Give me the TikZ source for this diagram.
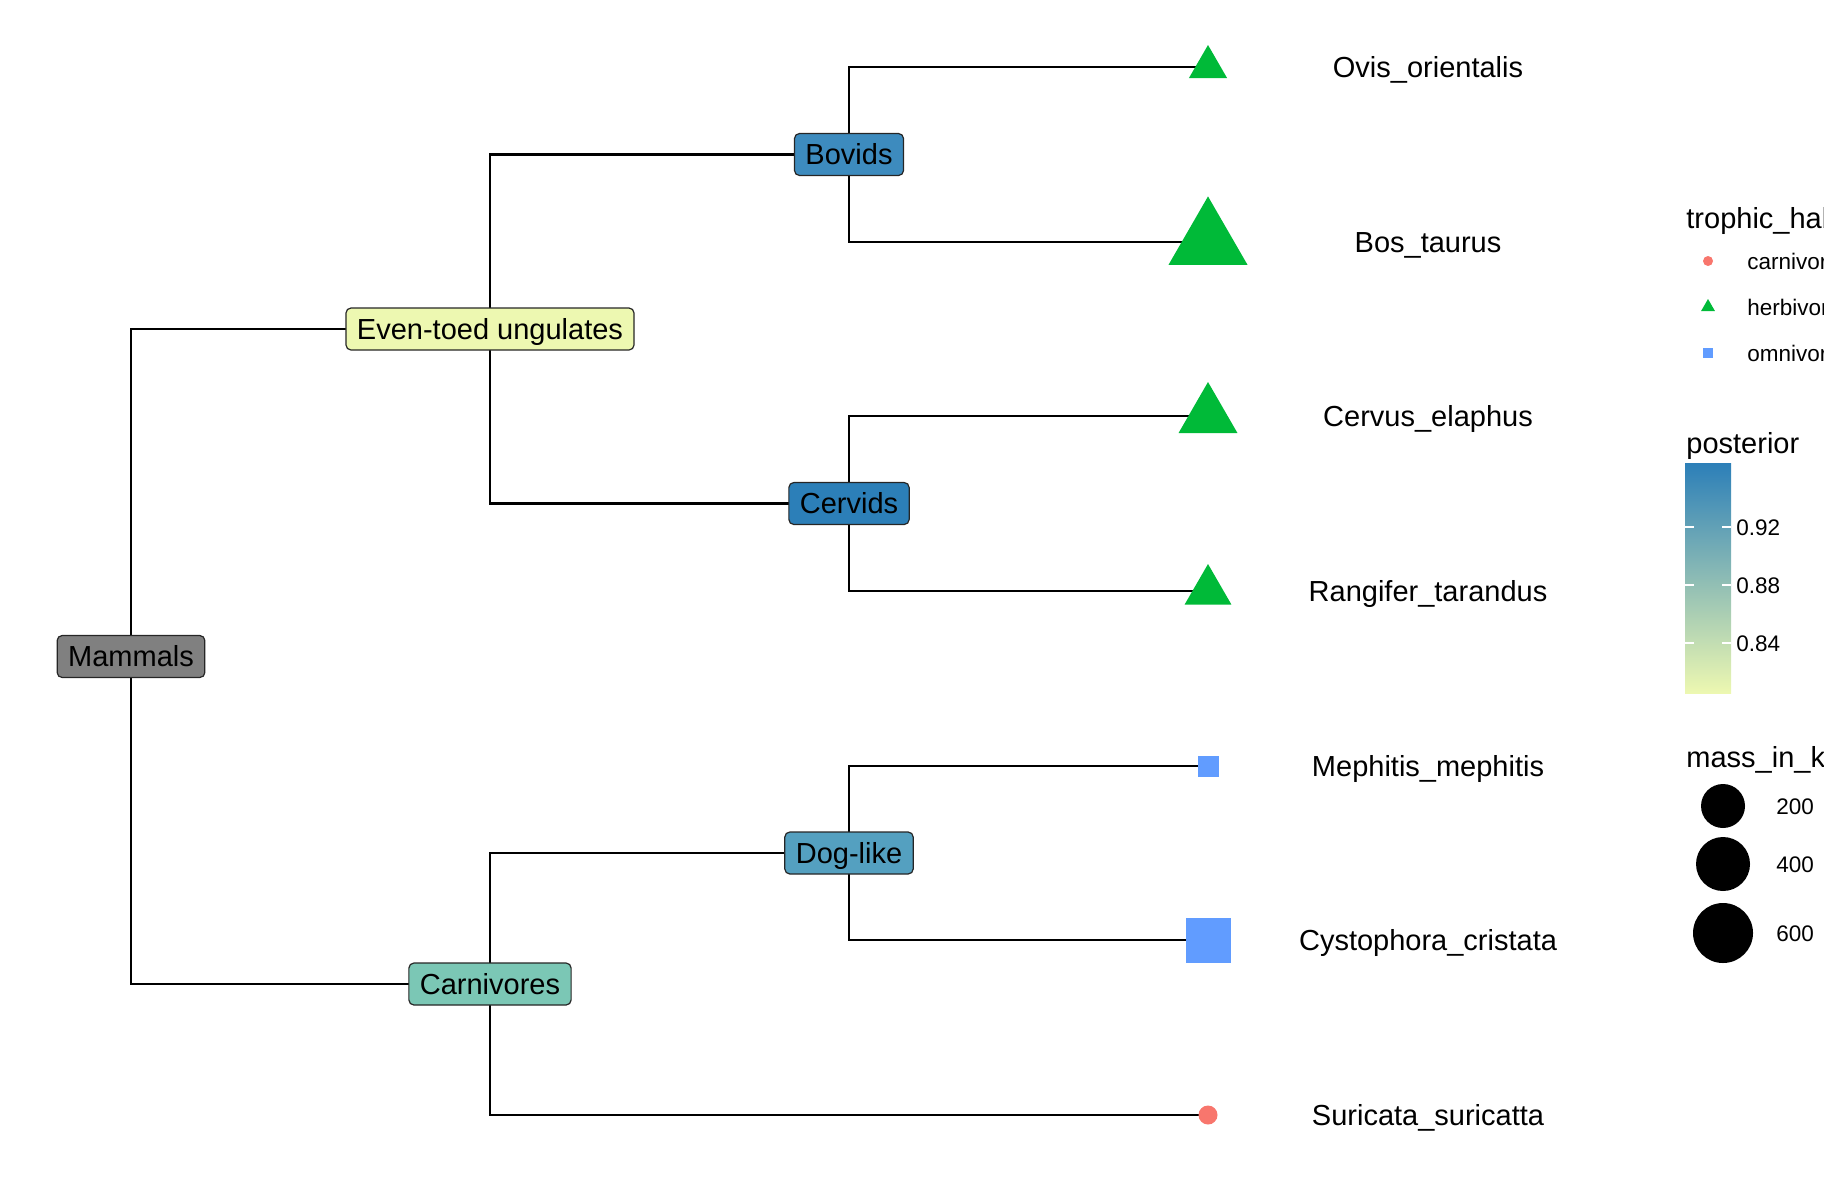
\documentclass[tikz,border=0pt]{standalone}
\usepackage{fontspec}
\setmainfont{Liberation Sans}
\usetikzlibrary{shapes.geometric,backgrounds}
\definecolor{carnc}{HTML}{F8766D}
\definecolor{herbc}{HTML}{00BA38}
\definecolor{omnic}{HTML}{619CFF}
\definecolor{postL}{HTML}{EDF8B1}
\definecolor{postM}{HTML}{7FCDBB}
\definecolor{postH}{HTML}{2C7FB8}

\begin{document}
\begin{tikzpicture}[x=0.5pt,y=-0.5pt,
clade/.style={draw=black!85,line width=0.6pt,rounded corners=2.5pt,font=\fontsize{14.5}{17}\selectfont,text height=10.4pt,text depth=0pt,inner xsep=5.5pt,inner ysep=5.3pt},
herb/.style={regular polygon,regular polygon sides=3,fill=herbc,inner sep=0pt,outer sep=0pt,minimum size=#1},
omni/.style={rectangle,fill=omnic,inner sep=0pt,outer sep=0pt,minimum size=#1},
carni/.style={circle,fill=carnc,inner sep=0pt,outer sep=0pt,minimum size=#1},
mass/.style={circle,fill=black,inner sep=0pt,minimum size=#1},
tiplab/.style={font=\fontsize{14.5}{17}\selectfont,anchor=base},
legtext/.style={font=\fontsize{11.25}{13}\selectfont,anchor=base west,inner xsep=0pt},
legtitle/.style={font=\fontsize{14.5}{17}\selectfont,anchor=base west,inner xsep=0pt},
branch/.style={line width=1.3pt}]
\useasboundingbox (0,0) rectangle (1824,1190);
\clip (0,0) rectangle (1824,1190);

\node[clade,fill=black!50](mam) at (131,656.5){Mammals};
\node[clade,fill=postL](ung) at (490,329){Even-toed ungulates};
\node[clade,fill=postM!97!black](car) at (490,984){Carnivores};
\node[clade,fill={rgb,255:red,61;green,139;blue,190}](bov) at (849,154.5){Bovids};
\node[clade,fill=postH](cer) at (849,503.5){Cervids};
\node[clade,fill={rgb,255:red,84;green,160;blue,192}](dog) at (849,853){Dog-like};

\node[herb=22pt](t1) at (1208,67){};
\node[herb=45.6pt](t2) at (1208,242){};
\node[herb=34pt](t3) at (1208,416){};
\node[herb=27pt](t4) at (1208,591){};
\node[omni=10.5pt](t5) at (1208,766){};
\node[omni=22.5pt](t6) at (1208,940){};
\node[carni=9.5pt](t7) at (1208,1115){};

\node[tiplab](l1) at (1428,77.5){Ovis\_orientalis};
\node[tiplab](l2) at (1428,252.5){Bos\_taurus};
\node[tiplab](l3) at (1428,426.5){Cervus\_elaphus};
\node[tiplab](l4) at (1428,601.5){Rangifer\_tarandus};
\node[tiplab](l5) at (1428,776.5){Mephitis\_mephitis};
\node[tiplab](l6) at (1428,950.5){Cystophora\_cristata};
\node[tiplab](l7) at (1428,1125.5){Suricata\_suricatta};

\begin{scope}[on background layer]
\draw[branch](mam.center)|-(ung.center);
\draw[branch](mam.center)|-(car.center);
\draw[branch](ung.center)|-(bov.center);
\draw[branch](ung.center)|-(cer.center);
\draw[branch](bov.center)|-(t1.center);
\draw[branch](bov.center)|-(t2.center);
\draw[branch](cer.center)|-(t3.center);
\draw[branch](cer.center)|-(t4.center);
\draw[branch](car.center)|-(dog.center);
\draw[branch](car.center)|-(t7.center);
\draw[branch](dog.center)|-(t5.center);
\draw[branch](dog.center)|-(t6.center);
\end{scope}

\node[legtitle](g1) at (1686,228){trophic\_habit};
\node[carni=5pt](k1) at (1708,261){};
\node[herb=8pt](k2) at (1708,307){};
\node[omni=5pt](k3) at (1708,353){};
\node[legtext](c1) at (1747,269){carnivore};
\node[legtext](c2) at (1747,315){herbivore};
\node[legtext](c3) at (1747,361){omnivore};

\node[legtitle](g2) at (1686,453){posterior};
\shade[top color=postH,middle color=postM,bottom color=postL](1685,463) rectangle (1731,693);
\foreach \y/\v in {527/0.92,585/0.88,643/0.84}{
\draw[white,line width=0.6pt](1685,\y)--(1694,\y) (1722,\y)--(1731,\y);
\node[legtext] at (1736,\y+8){\v};
}

\node[legtitle](g3) at (1686,767){mass\_in\_kg};
\node[mass=22pt](m1) at (1723,806){};
\node[mass=27pt](m2) at (1723,864){};
\node[mass=30pt](m3) at (1723,933){};
\node[legtext](n1) at (1776,814){200};
\node[legtext](n2) at (1776,872){400};
\node[legtext](n3) at (1776,941){600};

\end{tikzpicture}
\end{document}
